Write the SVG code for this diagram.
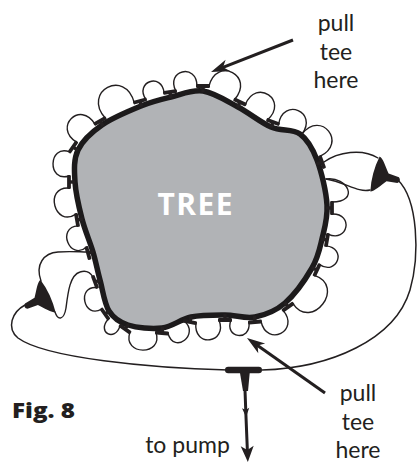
<svg xmlns="http://www.w3.org/2000/svg" xmlns:xlink="http://www.w3.org/1999/xlink" width="419" height="462" viewBox="0 0 419 462">
  <style>
    .ink { fill: #231f20; }
    .thin { fill: none; stroke: #231f20; stroke-width: 1.4; stroke-linecap: round; }
    .hose { fill: none; stroke: #231f20; stroke-width: 1.5; stroke-linecap: round; }
    .pointer { fill: none; stroke: #231f20; stroke-width: 3; }
    .label { font-family: Lato, "Open Sans", sans-serif; font-size: 23px; fill: #231f20; text-anchor: middle; }
  </style>
  <defs>
    <!-- barbed tee: bar along the trunk, stem pointing in toward it -->
    <g id="tee" class="ink">
      <rect x="-7" y="-1.9" width="14" height="3.8" rx="1.2"/>
      <rect x="-1.7" y="-1" width="3.4" height="7"/>
    </g>
    <!-- funnel-shaped fitting, base at x=0, outlet stub toward +x -->
    <path id="funnel" class="ink" d="M0,-18 C4,-17 8,-10 13,-4 L24,-3 Q27.5,0 24,3 L13,4 C8,10 4,17 0,18 C-2.5,6 -2.5,-6 0,-18 Z"/>
    <marker id="head" viewBox="-20 -8 22 16" markerWidth="22" markerHeight="16" refX="-6" refY="0" orient="auto" markerUnits="userSpaceOnUse">
      <path class="ink" d="M0,0 L-18,-6 L-13,0 L-18,6 Z"/>
    </marker>
    <marker id="headEnd" viewBox="-18 -8 20 16" markerWidth="20" markerHeight="16" refX="-6" refY="0" orient="auto" markerUnits="userSpaceOnUse">
      <path class="ink" d="M0,0 L-16,-6.5 L-12,0 L-16,6.5 Z"/>
    </marker>
    <marker id="headMid" viewBox="-11 -5 12 10" markerWidth="12" markerHeight="10" refX="0" refY="0" orient="auto" markerUnits="userSpaceOnUse">
      <path class="ink" d="M0,0 L-9,-3.6 L-7,0 L-9,3.6 Z"/>
    </marker>
  </defs>

  <rect width="419" height="462" fill="#ffffff"/>

  <!-- trunk -->
  <g id="tree">
    <path d="M102,125 C112.5,117.7 129.5,110.7 141,106 C152.5,101.3 160.7,99.5 171,97 C181.3,94.5 191.8,89.3 203,91 C214.2,92.7 226.7,101 238,107 C249.3,113 260.7,122.5 271,127 C281.3,131.5 292.3,128.5 300,134 C307.7,139.5 312.5,148.2 317,160 C321.5,171.8 326.2,191.8 327,205 C327.8,218.2 324.5,228.5 322,239 C319.5,249.5 318.2,257.3 312,268 C305.8,278.7 294.5,294.8 285,303 C275.5,311.2 265,315 255,317 C245,319 235.7,315 225,315 C214.3,315 201.5,314.8 191,317 C180.5,319.2 172.5,326.7 162,328 C151.5,329.3 136.8,327.8 128,325 C119.2,322.2 113.7,318.5 109,311 C104.3,303.5 102.7,289.8 100,280 C97.3,270.2 96,262.2 93,252 C90,241.8 85,230.7 82,219 C79,207.3 75.7,193.5 75,182 C74.3,170.5 73.5,159.5 78,150 C82.5,140.5 91.5,132.3 102,125 Z" fill="#b1b3b6" stroke="#1c1a1b" stroke-width="5.5" stroke-linejoin="round"/>
    <text x="195" y="215" font-family="Open Sans, Noto Sans, sans-serif" font-weight="700" font-size="30" fill="#ffffff" text-anchor="middle" textLength="75" lengthAdjust="spacing">TREE</text>
  </g>

  <!-- soaker loops and supply hose -->
  <g id="connectors">
    <path class="thin" d="M69,176 C47.1,182.7 48.1,144.1 69.6,151.9"/>
    <path class="thin" d="M76.4,142.1 C52.8,127.3 80.4,100.2 94.8,124"/>
    <path class="thin" d="M105.2,118 C81.8,91.4 125.3,68.3 134.2,102.6"/>
    <path class="thin" d="M145.8,99.4 C134.3,81.9 161.8,72 164.1,92.8"/>
    <path class="thin" d="M175.9,91.2 C165.1,70.3 196.8,62.5 197,86"/>
    <path class="thin" d="M209,86 C216.8,55.7 255.2,76 234.6,99.5"/>
    <path class="thin" d="M245.4,104.5 C256.1,77.6 289.1,100.7 267.4,119.9"/>
    <path class="thin" d="M278.6,124.1 C283.2,97 318.3,111.9 302,134"/>
    <path class="thin" d="M302,134 C321,109.6 347.9,143.2 319.9,156.4"/>
    <path class="thin" d="M332,214 C354.1,213.2 348.1,243.3 328,234.1"/>
    <path class="thin" d="M326,245.9 C347.2,248 337.5,276.1 319.5,264.6"/>
    <path class="thin" d="M314.5,275.4 C346.4,286.3 311.8,331.5 292.9,303.6"/>
    <path class="thin" d="M283.1,310.4 C300.3,330.8 267.2,347.5 261,321.5"/>
    <path class="thin" d="M249,322.5 C250.9,342 223.9,338.3 231,320"/>
    <path class="thin" d="M219,320 C227.9,343.6 193.3,348 195.9,323"/>
    <path class="thin" d="M184.1,321 C200.2,334 174.4,355 168,333.5"/>
    <path class="thin" d="M156,332.5 C163.7,356 122,355.9 129.9,332.4"/>
    <path class="thin" d="M120.1,325.6 C114.9,342.8 96.2,332.1 108.4,318.9"/>
    <path class="thin" d="M101.6,309.1 C83.6,319.6 76.4,285.2 97.1,287.6"/>
    <path class="thin" d="M86.4,247.2 C69.7,261.2 56.3,227.1 78,225.9"/>
    <path class="thin" d="M76,214.1 C54.6,228.2 43.4,186.5 69,188"/>
    <!-- right fitting leads -->
    <path class="thin" d="M324,162 C338,152 362,148 378,158"/>
    <path class="thin" d="M370,190 C358,193 345,182 326,179"/>
    <path class="thin" d="M326,179 C348,176 360,202 332,202"/>
    <!-- left fitting leads -->
    <path class="thin" d="M41,281 C35,264 44,253 58,252 C70,251 80,252 87,252"/>
    <path class="thin" d="M55,312 C58,321 64,320 66,308 C68,292 70,275 80,272 C86,270 90,272 93,277"/>
    <!-- supply hose loop -->
    <path class="hose" d="M25,305 C12,312 6,328 18,338 C45,358 150,368 228,370"/>
    <path class="hose" d="M262,370 C330,368 395,340 410,290 C420,255 418,200 398,180"/>
    <!-- line to pump -->
    <path class="pointer" d="M245,390 L246,417 L247.6,456" marker-mid="url(#headMid)" marker-end="url(#headEnd)" stroke-width="2.6"/>
    <!-- callout pointers -->
    <path class="pointer" d="M293,40 L216.6,69.8" marker-end="url(#head)"/>
    <path class="pointer" d="M325,393 L251.9,341.5" marker-end="url(#head)"/>
  </g>

  <!-- tees on the trunk -->
  <g id="tees">
    <use xlink:href="#tee" transform="translate(73,147) rotate(-55)"/>
    <use xlink:href="#tee" transform="translate(100,121) rotate(-30)"/>
    <use xlink:href="#tee" transform="translate(140,101) rotate(-15)"/>
    <use xlink:href="#tee" transform="translate(170,92) rotate(-8)"/>
    <use xlink:href="#tee" transform="translate(203,86)"/>
    <use xlink:href="#tee" transform="translate(240,102) rotate(25)"/>
    <use xlink:href="#tee" transform="translate(273,122) rotate(20)"/>
    <use xlink:href="#tee" transform="translate(322,162) rotate(70)"/>
    <use xlink:href="#tee" transform="translate(332,208) rotate(90)"/>
    <use xlink:href="#tee" transform="translate(327,240) rotate(100)"/>
    <use xlink:href="#tee" transform="translate(317,270) rotate(115)"/>
    <use xlink:href="#tee" transform="translate(288,307) rotate(145)"/>
    <use xlink:href="#tee" transform="translate(255,322) rotate(175)"/>
    <use xlink:href="#tee" transform="translate(225,320) rotate(180)"/>
    <use xlink:href="#tee" transform="translate(190,322) rotate(190)"/>
    <use xlink:href="#tee" transform="translate(162,333) rotate(185)"/>
    <use xlink:href="#tee" transform="translate(125,329) rotate(215)"/>
    <use xlink:href="#tee" transform="translate(105,314) rotate(235)"/>
    <use xlink:href="#tee" transform="translate(95,282) rotate(250)"/>
    <use xlink:href="#tee" transform="translate(88,253) rotate(255)"/>
    <use xlink:href="#tee" transform="translate(77,220) rotate(260)"/>
    <use xlink:href="#tee" transform="translate(69,182) rotate(270)"/>
  </g>

  <!-- fittings -->
  <g id="fitting-right">
    <use xlink:href="#funnel" transform="translate(375,174) rotate(15)"/>
  </g>
  <g id="fitting-left">
    <use xlink:href="#funnel" transform="translate(48,296) rotate(155)"/>
  </g>
  <g id="pump-tee" class="ink">
    <rect x="225" y="366.8" width="37" height="6.4" rx="3.2"/>
    <path d="M239.5,370 L250,370 L248,391 L243,391 Z"/>
  </g>

  <!-- labels -->
  <g id="label-top">
    <text class="label" x="336" y="31">pull</text>
    <text class="label" x="336" y="60">tee</text>
    <text class="label" x="336" y="88">here</text>
  </g>
  <g id="label-bottom">
    <text class="label" x="358" y="401">pull</text>
    <text class="label" x="358" y="430">tee</text>
    <text class="label" x="358" y="458">here</text>
  </g>
  <g id="label-pump">
    <text class="label" x="187.5" y="453">to pump</text>
  </g>
  <g id="caption">
    <text x="12" y="418" font-family="Open Sans, Noto Sans, sans-serif" font-weight="800" font-size="20.5" fill="#231f20" textLength="63" lengthAdjust="spacingAndGlyphs">Fig. 8</text>
  </g>
</svg>
